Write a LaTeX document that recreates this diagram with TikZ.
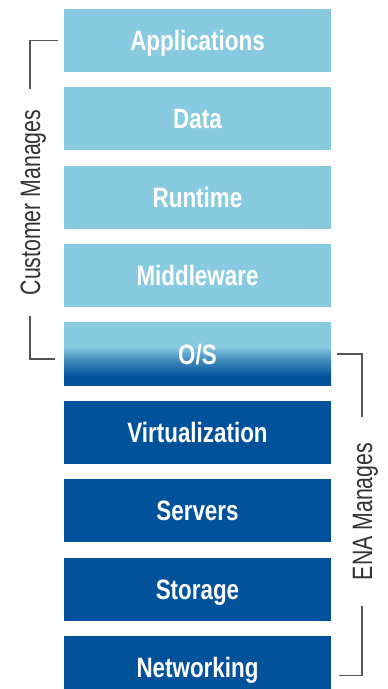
\documentclass[tikz,border=0pt]{standalone}
\usepackage{fontspec}
\newfontfamily\stackfont{Liberation Sans}[FakeStretch=0.8]
\newfontfamily\sidefont{Liberation Sans}[FakeStretch=0.76]
\usetikzlibrary{positioning}
\definecolor{boxlight}{RGB}{136,203,225}
\definecolor{boxdark}{RGB}{2,82,155}
\definecolor{bracketgray}{RGB}{85,85,85}
\pgfdeclareverticalshading{osfade}{100bp}{color(0bp)=(boxdark); color(32bp)=(boxdark); color(45bp)=(boxlight!45!boxdark); color(56bp)=(boxlight); color(100bp)=(boxlight)}

\begin{document}
\begin{tikzpicture}[x=1pt, y=-1pt,
  layer/.style={minimum width=267pt, minimum height=63pt, inner sep=0pt, text=white,
    text height=20pt, text depth=0pt, font=\stackfont\bfseries\fontsize{28}{30}\selectfont},
  upper/.style={layer, fill=boxlight},
  lower/.style={layer, fill=boxdark},
  side/.style={rotate=90, text=black!80, inner ysep=0pt, text height=20pt, text depth=0pt,
    font=\sidefont\fontsize{28}{30}\selectfont},
  bracket/.style={draw=bracketgray, line width=1.3pt},
  node distance=15pt]

\clip (0,0) rectangle (388,689);

% the stack
\node[upper] (app) at (197.5,40.5) {Applications};
\node[upper, below=of app] (data) {Data};
\node[upper, below=of data] (rt) {Runtime};
\node[upper, below=of rt] (mw) {Middleware};
\node[layer, shade, shading=osfade, below=of mw] (os) {O/S};
\node[lower, below=of os] (virt) {Virtualization};
\node[lower, below=of virt] (srv) {Servers};
\node[lower, below=of srv] (sto) {Storage};
\node[lower, below=of sto] (net) {Networking};

% who manages what
\node[side, inner xsep=20pt] (cust) at (30,202.5) {Customer Manages};
\node[side, inner xsep=26pt] (ena) at (362,511.5) {ENA Manages};

\draw[bracket] ([xshift=-6pt]app.west) -| (cust.east);
\draw[bracket] ([xshift=-9pt,yshift=-5pt]os.west) -| (cust.west);
\draw[bracket] ([xshift=6pt]os.east) -| (ena.east);
\draw[bracket] ([xshift=8pt,yshift=-7.5pt]net.east) -| (ena.west);

\end{tikzpicture}
\end{document}
